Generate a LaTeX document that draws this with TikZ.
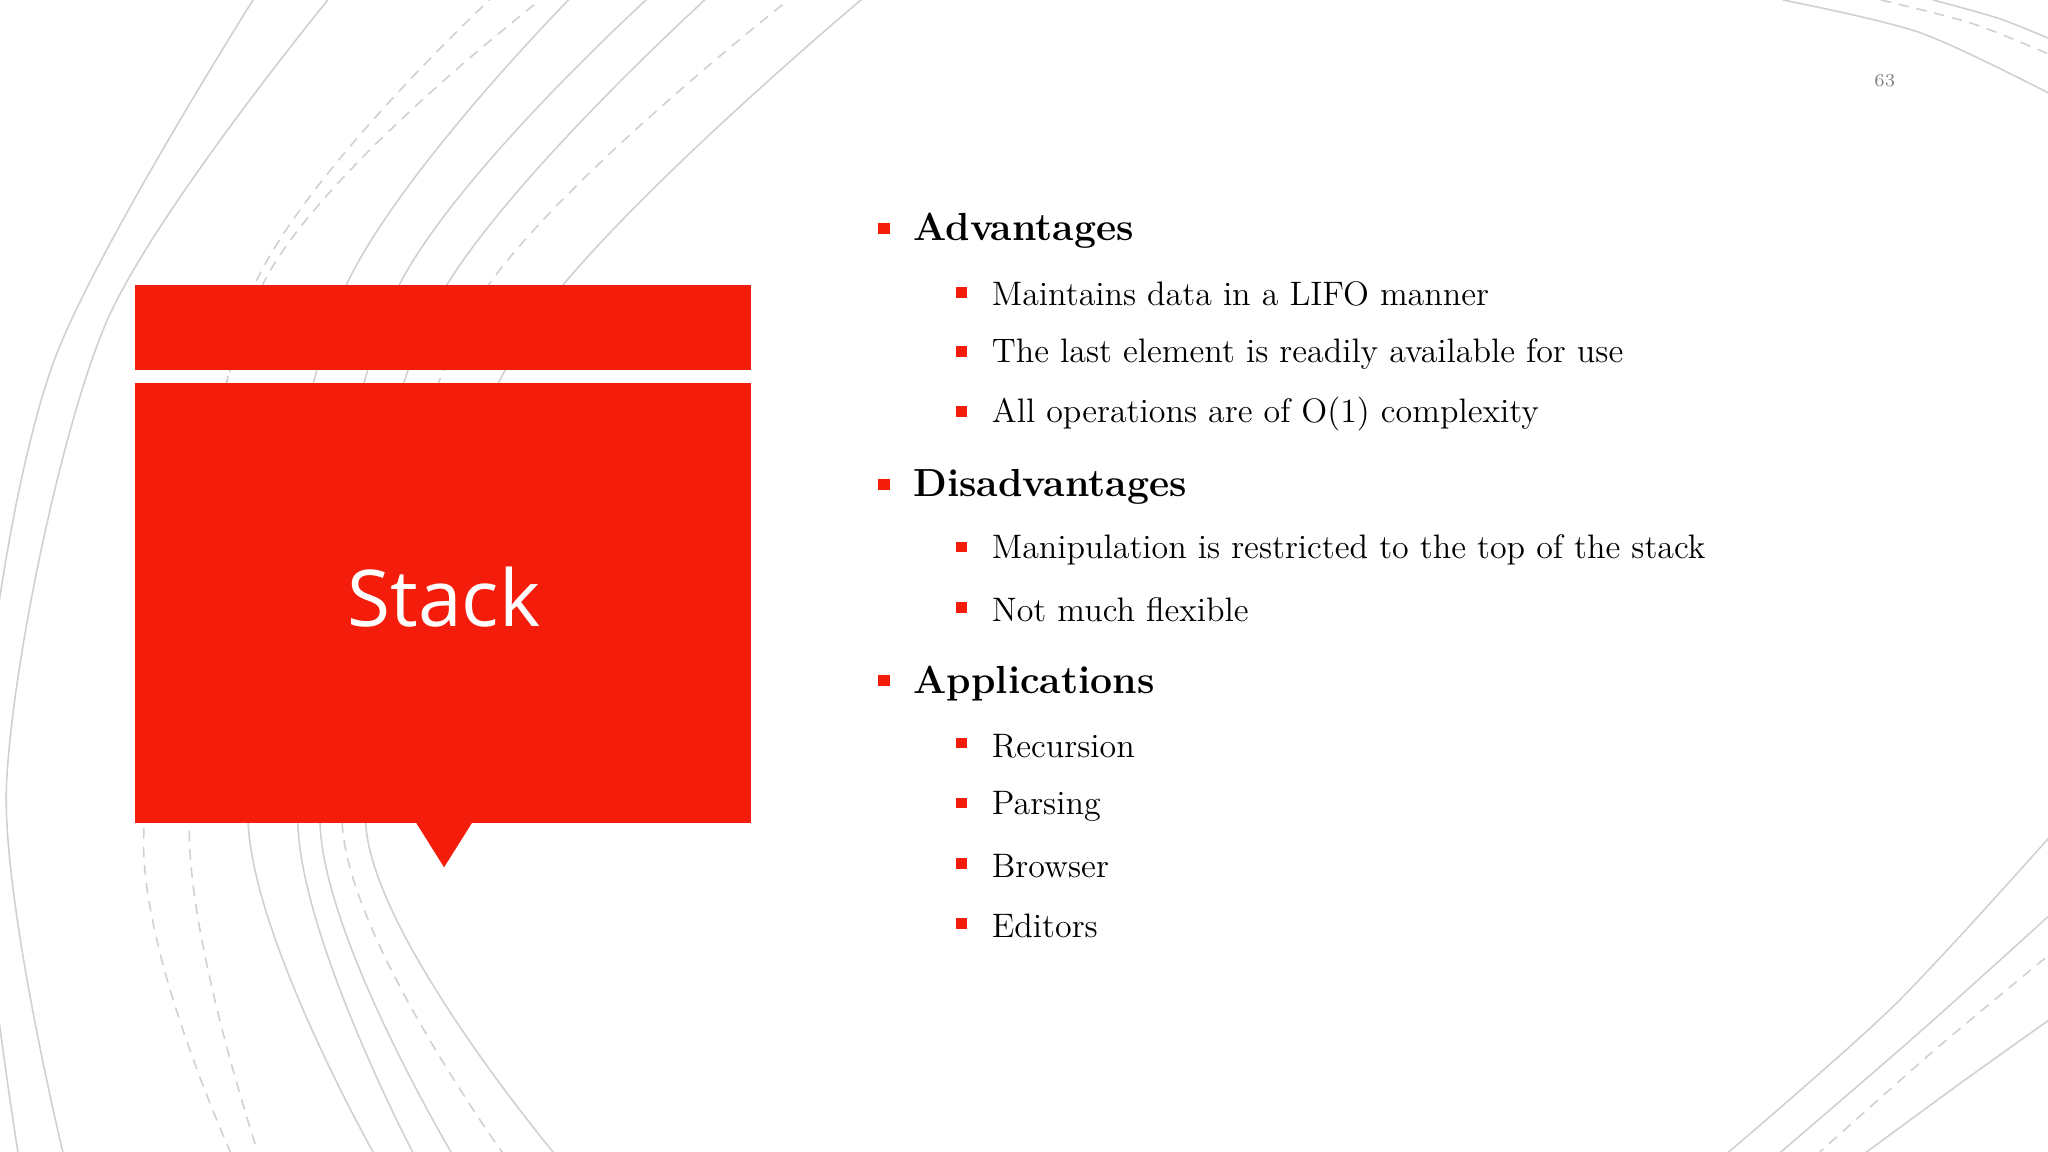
\documentclass[tikz,border=0pt]{standalone}
\usepackage{fontspec}
\newfontfamily\stackfont{Open Sans}
\definecolor{slred}{HTML}{F41C0A}
\definecolor{arcgray}{HTML}{D0D0D0}
\tikzset{
  arc/.style={draw=arcgray, line width=0.6pt},
  darc/.style={arc, dash pattern=on 4pt off 3pt},
  lone/.style={anchor=west, font=\fontsize{15}{18}\selectfont\bfseries, inner sep=0},
  ltwo/.style={anchor=west, font=\fontsize{13}{16}\selectfont, inner sep=0},
  bone/.style={fill=slred, minimum size=4.5pt, inner sep=0},
  btwo/.style={fill=slred, minimum size=4pt, inner sep=0}
}
\begin{document}
\begin{tikzpicture}[x=0.5pt,y=-0.5pt]
\fill[white] (0,0) rectangle (1568,882);
\useasboundingbox (0,0) rectangle (1568,882);
\begin{scope}
\clip (0,0) rectangle (1568,882);
\draw[arc] plot[smooth] coordinates {(200,-10) (40,280) (-15,600) (15,890)};
\draw[arc] plot[smooth] coordinates {(255,-5) (80,250) (5,600) (50,890)};
\draw[darc] plot[smooth] coordinates {(420,-5) (200,220) (110,640) (180,890)};
\draw[darc] plot[smooth] coordinates {(380,-5) (190,230) (145,640) (200,890)};
\draw[arc] plot[smooth] coordinates {(440,-5) (260,230) (190,630) (290,890)};
\draw[arc] plot[smooth] coordinates {(500,-5) (300,230) (228,630) (320,890)};
\draw[arc] plot[smooth] coordinates {(545,-5) (330,240) (245,630) (350,890)};
\draw[darc] plot[smooth] coordinates {(610,-5) (360,240) (262,630) (390,890)};
\draw[arc] plot[smooth] coordinates {(665,-5) (400,260) (280,630) (430,890)};
\draw[arc] plot[smooth] coordinates {(1365,0) (1470,25) (1570,72)};
\draw[darc] plot[smooth] coordinates {(1440,0) (1510,18) (1570,42)};
\draw[arc] plot[smooth] coordinates {(1480,0) (1530,14) (1570,30)};
\draw[arc] plot[smooth] coordinates {(1320,885) (1450,770) (1570,640)};
\draw[arc] plot[smooth] coordinates {(1360,885) (1470,790) (1570,700)};
\draw[darc] plot[smooth] coordinates {(1390,885) (1480,805) (1570,730)};
\draw[arc] plot[smooth] coordinates {(1425,885) (1500,830) (1570,780)};
\end{scope}
\fill[slred] (103,218) rectangle (575,283);
\fill[slred] (103,293) rectangle (575,630);
\fill[slred] (318,629) -- (340,664) -- (362,629) -- cycle;
\node[text=white, font=\stackfont\fontsize{30}{36}\selectfont] (title) at (340,457) {Stack};
\node[text=gray, font=\fontsize{7}{8}\selectfont] (pg) at (1443,62) {63};
% level 1
\node[bone] (b1) at (677,175) {}; \node[lone] (t1) at (699,177) {Advantages};
\node[btwo] (b11) at (736,224) {}; \node[ltwo] (t11) at (759,225) {Maintains data in a LIFO manner};
\node[btwo] (b12) at (736,269) {}; \node[ltwo] (t12) at (759,271) {The last element is readily available for use};
\node[btwo] (b13) at (736,315) {}; \node[ltwo] (t13) at (759,317) {All operations are of O(1) complexity};
\node[bone] (b2) at (677,371) {}; \node[lone] (t2) at (699,373) {Disadvantages};
\node[btwo] (b21) at (736,419) {}; \node[ltwo] (t21) at (759,421) {Manipulation is restricted to the top of the stack};
\node[btwo] (b22) at (736,465) {}; \node[ltwo] (t22) at (759,467) {Not much flexible};
\node[bone] (b3) at (677,521) {}; \node[lone] (t3) at (699,523) {Applications};
\node[btwo] (b31) at (736,569) {}; \node[ltwo] (t31) at (759,571) {Recursion};
\node[btwo] (b32) at (736,615) {}; \node[ltwo] (t32) at (759,617) {Parsing};
\node[btwo] (b33) at (736,661) {}; \node[ltwo] (t33) at (759,663) {Browser};
\node[btwo] (b34) at (736,707) {}; \node[ltwo] (t34) at (759,709) {Editors};
\end{tikzpicture}
\end{document}
